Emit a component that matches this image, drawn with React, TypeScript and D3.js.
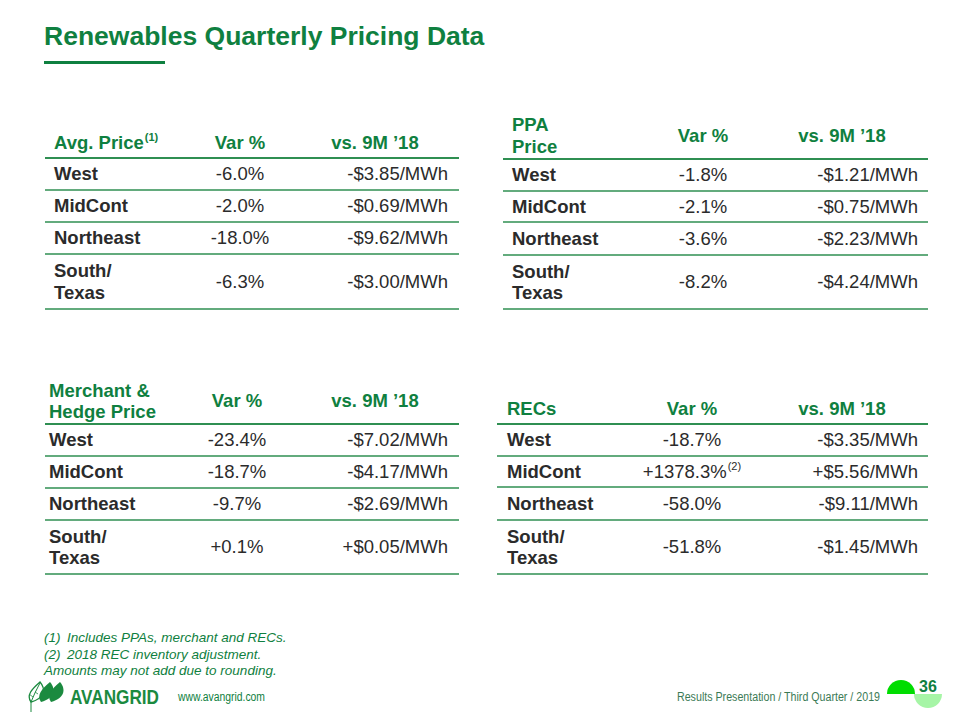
import React from "react";
import * as d3 from "d3";

// ---------- data ----------
const regions = ["West", "MidCont", "Northeast", "South/|Texas"];

const avgVar = ["-6.0%", "-2.0%", "-18.0%", "-6.3%"];
const avgDelta = ["-$3.85/MWh", "-$0.69/MWh", "-$9.62/MWh", "-$3.00/MWh"];

const ppaVar = ["-1.8%", "-2.1%", "-3.6%", "-8.2%"];
const ppaDelta = ["-$1.21/MWh", "-$0.75/MWh", "-$2.23/MWh", "-$4.24/MWh"];

const merchVar = ["-23.4%", "-18.7%", "-9.7%", "+0.1%"];
const merchDelta = ["-$7.02/MWh", "-$4.17/MWh", "-$2.69/MWh", "+$0.05/MWh"];

const recVar = ["-18.7%", "+1378.3%|(2)", "-58.0%", "-51.8%"];
const recDelta = ["-$3.35/MWh", "+$5.56/MWh", "-$9.11/MWh", "-$1.45/MWh"];

const colHeaders = ["Var %", "vs. 9M \u201918"];

const footnotes = [
  "(1)  Includes PPAs, merchant and RECs.",
  "(2)  2018 REC inventory adjustment.",
  "Amounts may not add due to rounding.",
];

// ---------- styles ----------
const GREEN = "#0f8040";
const LINE = "#2f8f52";
const TEXT = "#2b2b2b";
const FONT = "'Liberation Sans', Arial, Helvetica, sans-serif";
const NARROW = "'Liberation Sans Narrow', 'Arial Narrow', 'Liberation Sans', Arial, sans-serif";

type TableCfg = {
  title: string[];
  sup?: string;
  vars: string[];
  deltas: string[];
  x0: number;
  x1: number;
  labelX: number;
  varX: number;
  valRight: number;
  vsX: number;
  headerTop: number;
  headerLine: number;
  rowLines: number[];
};

const tables: TableCfg[] = [
  {
    title: ["Avg. Price"], sup: "(1)", vars: avgVar, deltas: avgDelta,
    x0: 45, x1: 459, labelX: 54, varX: 240, valRight: 448, vsX: 375,
    headerTop: 125, headerLine: 158, rowLines: [190, 222, 254, 309],
  },
  {
    title: ["PPA", "Price"], vars: ppaVar, deltas: ppaDelta,
    x0: 503, x1: 928, labelX: 512, varX: 703, valRight: 918, vsX: 842,
    headerTop: 110, headerLine: 159, rowLines: [191, 222, 255, 309],
  },
  {
    title: ["Merchant &", "Hedge Price"], vars: merchVar, deltas: merchDelta,
    x0: 45, x1: 459, labelX: 49, varX: 237, valRight: 448, vsX: 375,
    headerTop: 376, headerLine: 424, rowLines: [456, 488, 520, 574],
  },
  {
    title: ["RECs"], vars: recVar, deltas: recDelta,
    x0: 497, x1: 928, labelX: 507, varX: 692, valRight: 918, vsX: 842,
    headerTop: 392, headerLine: 424, rowLines: [456, 487, 520, 574],
  },
];

function Table({ t }: { t: TableCfg }) {
  const bounds = [t.headerLine, ...t.rowLines];
  const rowScale = d3.scaleOrdinal<string, [number, number]>()
    .domain(regions)
    .range(regions.map((_, i) => [bounds[i], bounds[i + 1]] as [number, number]));
  const hdrMid = (t.headerTop + t.headerLine) / 2 + 1;
  const lh = 21.5;
  const titleStart = hdrMid - ((t.title.length - 1) * lh) / 2;
  const fs = 18.5;
  return (
    <g>
      {t.title.map((s, i) => (
        <text key={i} x={t.labelX} y={titleStart + i * lh} dy="0.35em" fontSize={fs}
          fontWeight="bold" fill={GREEN} fontFamily={FONT}>
          {s}
          {t.sup && i === 0 ? (
            <tspan fontSize={11} dy="-0.7em" dx="1">{t.sup}</tspan>
          ) : null}
        </text>
      ))}
      <text x={t.varX} y={hdrMid} dy="0.35em" fontSize={fs} fontWeight="bold" fill={GREEN}
        fontFamily={FONT} textAnchor="middle">{colHeaders[0]}</text>
      <text x={t.vsX} y={hdrMid} dy="0.35em" fontSize={fs} fontWeight="bold" fill={GREEN}
        fontFamily={FONT} textAnchor="middle">{colHeaders[1]}</text>
      <line x1={t.x0} x2={t.x1} y1={t.headerLine} y2={t.headerLine} stroke={LINE} strokeWidth={2.2} />
      {regions.map((r, i) => {
        const [a, b] = rowScale(r);
        const mid = (a + b) / 2;
        const lines = r.split("|");
        const [vMain, vSup] = t.vars[i].split("|");
        return (
          <g key={r}>
            {lines.map((s, j) => (
              <text key={j} x={t.labelX} y={mid + (j - (lines.length - 1) / 2) * 21.5} dy="0.35em"
                fontSize={fs} fontWeight="bold" fill={TEXT} fontFamily={FONT}>{s}</text>
            ))}
            <text x={t.varX} y={mid} dy="0.35em" fontSize={fs} fill={TEXT} fontFamily={FONT}
              textAnchor="middle">
              {vMain}
              {vSup ? <tspan fontSize={11} dy="-0.7em" dx="1">{vSup}</tspan> : null}
            </text>
            <text x={t.valRight} y={mid} dy="0.35em" fontSize={fs} fill={TEXT} fontFamily={FONT}
              textAnchor="end">{t.deltas[i]}</text>
            <line x1={t.x0} x2={t.x1} y1={b} y2={b} stroke={LINE} strokeWidth={1.6} />
          </g>
        );
      })}
    </g>
  );
}

function leafPath(bx: number, by: number) {
  // base at (bx, by), tip up and slightly right
  const tx = bx + 9, ty = by - 20;
  const p = d3.path();
  p.moveTo(bx, by);
  p.bezierCurveTo(bx - 5, by - 7, tx - 8, ty + 7, tx, ty);
  p.bezierCurveTo(tx + 6, ty + 7, bx + 14, by - 4, bx, by);
  p.closePath();
  return p.toString();
}

export default function App() {
  const LOGO = "#1b8a3f";
  return (
    <svg width={960} height={720} viewBox="0 0 960 720"
      style={{ position: "fixed", left: 0, top: 0, background: "#fff" }}>
      <rect width={960} height={720} fill="#fff" />
      <text x={44} y={45} fontSize={26.5} fontWeight="bold" fill={GREEN} fontFamily={FONT}>
        Renewables Quarterly Pricing Data
      </text>
      <rect x={44} y={61} width={121} height={3} fill={GREEN} />

      {tables.map((t, i) => <Table key={i} t={t} />)}

      {footnotes.map((f, i) => {
        const m = f.match(/^(\(\d\))\s+(.*)$/);
        const y = 642 + i * 16.5;
        return m ? (
          <g key={i}>
            <text x={44} y={y} fontSize={13.5} fontStyle="italic" fill={GREEN} fontFamily={NARROW}>{m[1]}</text>
            <text x={67} y={y} fontSize={13.5} fontStyle="italic" fill={GREEN} fontFamily={NARROW}>{m[2]}</text>
          </g>
        ) : (
          <text key={i} x={44} y={y} fontSize={13.5} fontStyle="italic" fill={GREEN} fontFamily={NARROW}>{f}</text>
        );
      })}

      {/* logo */}
      <g>
        <path d={leafPath(31, 702)} fill="#fff" stroke={LOGO} strokeWidth={1.3} />
        <path d="M31,712 L31,702 Q35,692 40,683" fill="none" stroke={LOGO} strokeWidth={1} />
        <path d="M33,697 L29,694 M35,692 L38,694" fill="none" stroke={LOGO} strokeWidth={0.8} />
        <path d={leafPath(41, 702)} fill={LOGO} />
        <path d={leafPath(51, 702)} fill={LOGO} />
        <text x={70} y={704} fontSize={20} fontWeight="bold" fill={LOGO} fontFamily={FONT}
          textLength={89} lengthAdjust="spacingAndGlyphs">AVANGRID</text>
        <text x={178} y={701} fontSize={12} fill={GREEN} fontFamily={NARROW}
          textLength={87} lengthAdjust="spacingAndGlyphs">www.avangrid.com</text>
      </g>

      <text x={677} y={701} fontSize={12} fill="#3b7a55" fontFamily={NARROW}
        textLength={203} lengthAdjust="spacingAndGlyphs">
        Results Presentation / Third Quarter / 2019
      </text>
      <path d={d3.arc()({ innerRadius: 0, outerRadius: 14, startAngle: -Math.PI / 2, endAngle: Math.PI / 2 }) || ""}
        transform="translate(901,694)" fill="#00dd00" />
      <path d={d3.arc()({ innerRadius: 0, outerRadius: 14, startAngle: Math.PI / 2, endAngle: (3 * Math.PI) / 2 }) || ""}
        transform="translate(928,694)" fill="#a6f5a6" />
      <text x={928} y={692} fontSize={16} fontWeight="bold" fill={GREEN} fontFamily={NARROW}
        textAnchor="middle">36</text>
    </svg>
  );
}
